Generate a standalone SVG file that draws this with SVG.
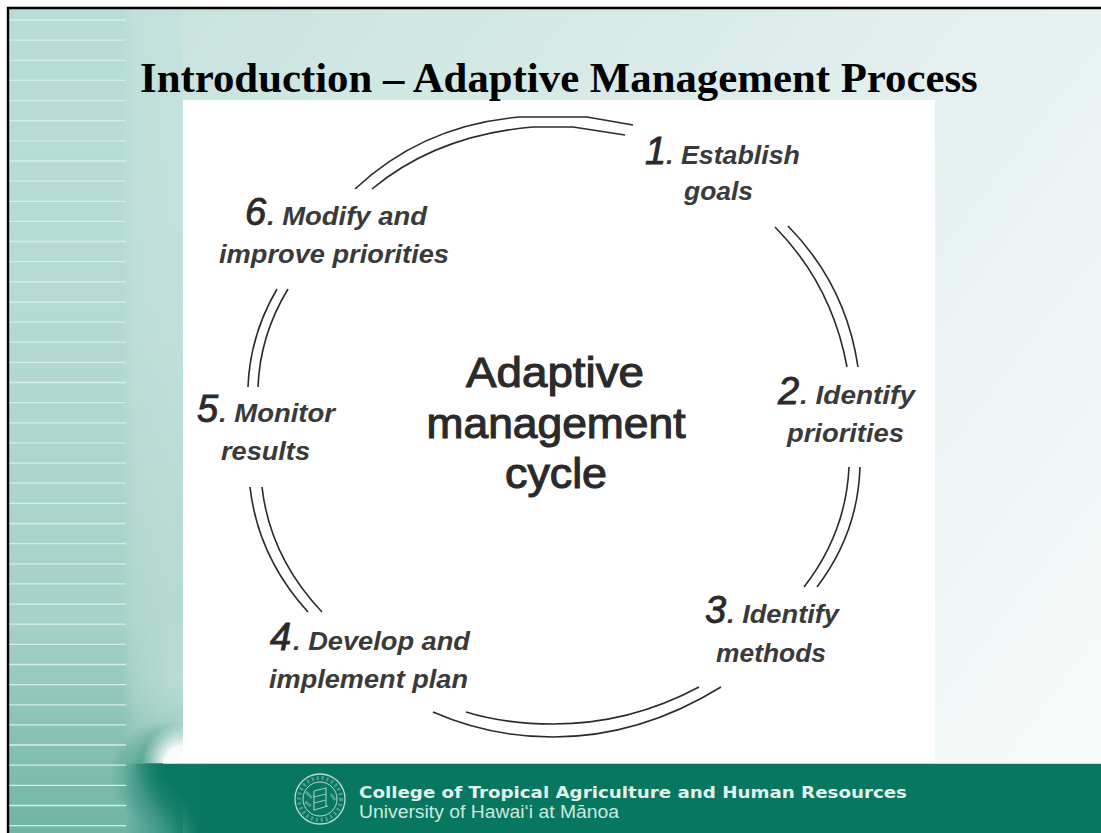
<svg xmlns="http://www.w3.org/2000/svg" width="1101" height="833" viewBox="0 0 1101 833">
<style>
.lbl{font-family:"Liberation Sans",Arial,sans-serif;font-style:italic;font-weight:700;font-size:25px;fill:#3a3a3a;stroke:none}
.num{font-family:"Liberation Sans",Arial,sans-serif;font-style:italic;font-size:38px;fill:#2a2a2a;stroke:#2a2a2a;stroke-width:.9px}
.ctr{font-family:"Liberation Sans",Arial,sans-serif;font-size:42px;fill:#2a2a2a;stroke:#2a2a2a;stroke-width:1.1px;text-anchor:middle}
.arc{fill:none;stroke:#2a2a2a;stroke-width:1.6}
</style>
<defs>
<linearGradient id="bg" gradientUnits="userSpaceOnUse" x1="183" y1="0" x2="1101" y2="700">
<stop offset="0" stop-color="#c9e3df"/><stop offset=".35" stop-color="#d8ebe8"/><stop offset=".7" stop-color="#ebf3f4"/><stop offset="1" stop-color="#f6faf9"/>
</linearGradient>
<linearGradient id="strip" gradientUnits="userSpaceOnUse" x1="0" y1="0" x2="0" y2="833">
<stop offset="0" stop-color="#b8dcd6"/><stop offset=".36" stop-color="#b5dad4"/><stop offset=".745" stop-color="#a6d1c8"/><stop offset="1" stop-color="#6fb4a5"/>
</linearGradient>
<linearGradient id="veil" gradientUnits="userSpaceOnUse" x1="122" y1="0" x2="183" y2="0">
<stop offset="0" stop-color="#fff" stop-opacity="0"/><stop offset=".2" stop-color="#fff" stop-opacity=".12"/><stop offset="1" stop-color="#fff" stop-opacity=".18"/>
</linearGradient>
<radialGradient id="veil2" gradientUnits="userSpaceOnUse" cx="183" cy="680" r="65">
<stop offset="0" stop-color="#fff" stop-opacity=".22"/><stop offset="1" stop-color="#fff" stop-opacity="0"/>
</radialGradient>
<radialGradient id="dark" gradientUnits="userSpaceOnUse" cx="165" cy="775" r="55">
<stop offset="0" stop-color="#07775f" stop-opacity=".8"/><stop offset="1" stop-color="#07775f" stop-opacity="0"/>
</radialGradient>
<radialGradient id="light" gradientUnits="userSpaceOnUse" cx="183" cy="765" r="42">
<stop offset="0" stop-color="#fff"/><stop offset=".45" stop-color="#fff" stop-opacity=".95"/><stop offset="1" stop-color="#fff" stop-opacity="0"/>
</radialGradient>
<linearGradient id="band" gradientUnits="userSpaceOnUse" x1="125" y1="0" x2="205" y2="0">
<stop offset="0" stop-color="#07775f" stop-opacity="0"/><stop offset="1" stop-color="#07775f"/>
</linearGradient>
<linearGradient id="band2" gradientUnits="userSpaceOnUse" x1="140" y1="785" x2="170" y2="768">
<stop offset="0" stop-color="#07775f" stop-opacity="0"/><stop offset="1" stop-color="#07775f" stop-opacity=".9"/>
</linearGradient>
</defs>

<rect width="1101" height="833" fill="#fff"/>
<rect x="183" y="9" width="918" height="824" fill="url(#bg)"/>
<rect x="9" y="9" width="174" height="824" fill="url(#strip)"/>
<rect x="122" y="9" width="61" height="754" fill="url(#veil)"/>
<rect x="118" y="615" width="65" height="148" fill="url(#veil2)"/>
<rect x="110" y="720" width="110" height="113" fill="url(#dark)"/>
<rect x="125" y="764" width="976" height="69" fill="url(#band)"/>
<rect x="135" y="764" width="100" height="69" fill="url(#band2)"/>
<rect x="130" y="720" width="53" height="43" fill="url(#light)"/>
<path d="M9 20H126M9 40.1H126M9 60.3H126M9 80.4H126M9 100.6H126M9 120.7H126M9 140.8H126M9 161H126M9 181.1H126M9 201.3H126M9 221.4H126M9 241.5H126M9 261.7H126M9 281.8H126M9 302H126M9 322.1H126M9 342.2H126M9 362.4H126M9 382.5H126M9 402.7H126M9 422.8H126M9 442.9H126M9 463.1H126M9 483.2H126M9 503.4H126M9 523.5H126M9 543.6H126M9 563.8H126M9 583.9H126M9 604.1H126M9 624.2H126M9 644.3H126M9 664.5H126M9 684.6H126M9 704.8H126M9 724.9H126M9 745H126M9 765.2H126M9 785.3H126M9 805.5H126M9 825.6H126" stroke="#d3eee8" stroke-width="1.3" fill="none"/>
<rect x="183" y="100" width="752" height="663" fill="#fff"/>
<path d="M163 763.5H1101" stroke="#b9e0d6" stroke-width="1.2"/>
<path d="M8 833V8H1101" fill="none" stroke="#000" stroke-width="2.4"/>

<text id="title" x="140" y="92" font-family="'Liberation Serif','Times New Roman',serif" font-weight="700" font-size="42.8px" fill="#000">Introduction – Adaptive Management Process</text>

<g id="connectors">
<path class="arc" d="M355 189Q423 125 520 117H587L633 125"/>
<path class="arc" d="M372 189Q437 135 533 127H573L625 135"/>
<path class="arc" d="M788 226Q846 285 858 367"/>
<path class="arc" d="M775 227Q832 285 847 367"/>
<path class="arc" d="M860 467Q858 533 817 587"/>
<path class="arc" d="M849 467Q846 533 804 587"/>
<path class="arc" d="M721 687Q640 737 553 737Q490 737 433 712"/>
<path class="arc" d="M699 687Q630 724 553 724Q505 724 466 712"/>
<path class="arc" d="M250 487Q258 557 308 612"/>
<path class="arc" d="M262 487Q270 557 322 612"/>
<path class="arc" d="M248 387Q250 335 277 289"/>
<path class="arc" d="M258 387Q260 335 288 289"/>
</g>

<g id="node-center"><text class="ctr" x="555" y="387" textLength="178" lengthAdjust="spacingAndGlyphs">Adaptive</text><text class="ctr" x="556" y="438" textLength="259" lengthAdjust="spacingAndGlyphs">management</text><text class="ctr" x="556" y="488" textLength="102" lengthAdjust="spacingAndGlyphs">cycle</text></g>
<g id="node-1"><text class="num" x="645" y="164">1</text><text class="lbl" x="666" y="164" textLength="134" lengthAdjust="spacingAndGlyphs">. Establish</text><text class="lbl" x="684" y="200" textLength="69" lengthAdjust="spacingAndGlyphs">goals</text></g>
<g id="node-2"><text class="num" x="778" y="404">2</text><text class="lbl" x="800" y="404" textLength="115" lengthAdjust="spacingAndGlyphs">. Identify</text><text class="lbl" x="787" y="442" textLength="117" lengthAdjust="spacingAndGlyphs">priorities</text></g>
<g id="node-3"><text class="num" x="705" y="623">3</text><text class="lbl" x="727" y="623" textLength="112" lengthAdjust="spacingAndGlyphs">. Identify</text><text class="lbl" x="716" y="662" textLength="110" lengthAdjust="spacingAndGlyphs">methods</text></g>
<g id="node-4"><text class="num" x="270" y="650">4</text><text class="lbl" x="293" y="650" textLength="177" lengthAdjust="spacingAndGlyphs">. Develop and</text><text class="lbl" x="269" y="688" textLength="199" lengthAdjust="spacingAndGlyphs">implement plan</text></g>
<g id="node-5"><text class="num" x="197" y="422">5</text><text class="lbl" x="219" y="422" textLength="116" lengthAdjust="spacingAndGlyphs">. Monitor</text><text class="lbl" x="221" y="460" textLength="89" lengthAdjust="spacingAndGlyphs">results</text></g>
<g id="node-6"><text class="num" x="245" y="225">6</text><text class="lbl" x="267" y="225" textLength="160" lengthAdjust="spacingAndGlyphs">. Modify and</text><text class="lbl" x="219" y="263" textLength="230" lengthAdjust="spacingAndGlyphs">improve priorities</text></g>

<g id="footer">
<g id="seal" fill="none" stroke="#bcdcd2">
<circle cx="320" cy="799" r="25" stroke-width="1.3"/>
<circle cx="320" cy="799" r="21" stroke-width="4" stroke-dasharray="2 3" opacity=".4"/>
<circle cx="320" cy="799" r="17" stroke-width="1"/>
<path d="M314 791L326 788V806M314 791V810L328 806M314 797L326 794M314 803L326 800" stroke-width="1.2" opacity=".8"/>
<path d="M306 792L312 798M305 802L311 806M331 794L335 800" stroke-width="3" opacity=".4"/>
</g>
<text x="359" y="798" font-family="'DejaVu Sans',sans-serif" font-weight="700" font-size="15.5px" fill="#e2f2ec" textLength="548" lengthAdjust="spacingAndGlyphs">College of Tropical Agriculture and Human Resources</text>
<text x="359" y="818" font-family="'Liberation Sans',Arial,sans-serif" font-size="17.5px" fill="#cfe8df" textLength="260" lengthAdjust="spacingAndGlyphs">University of Hawai‘i at Mānoa</text>
</g>
</svg>
